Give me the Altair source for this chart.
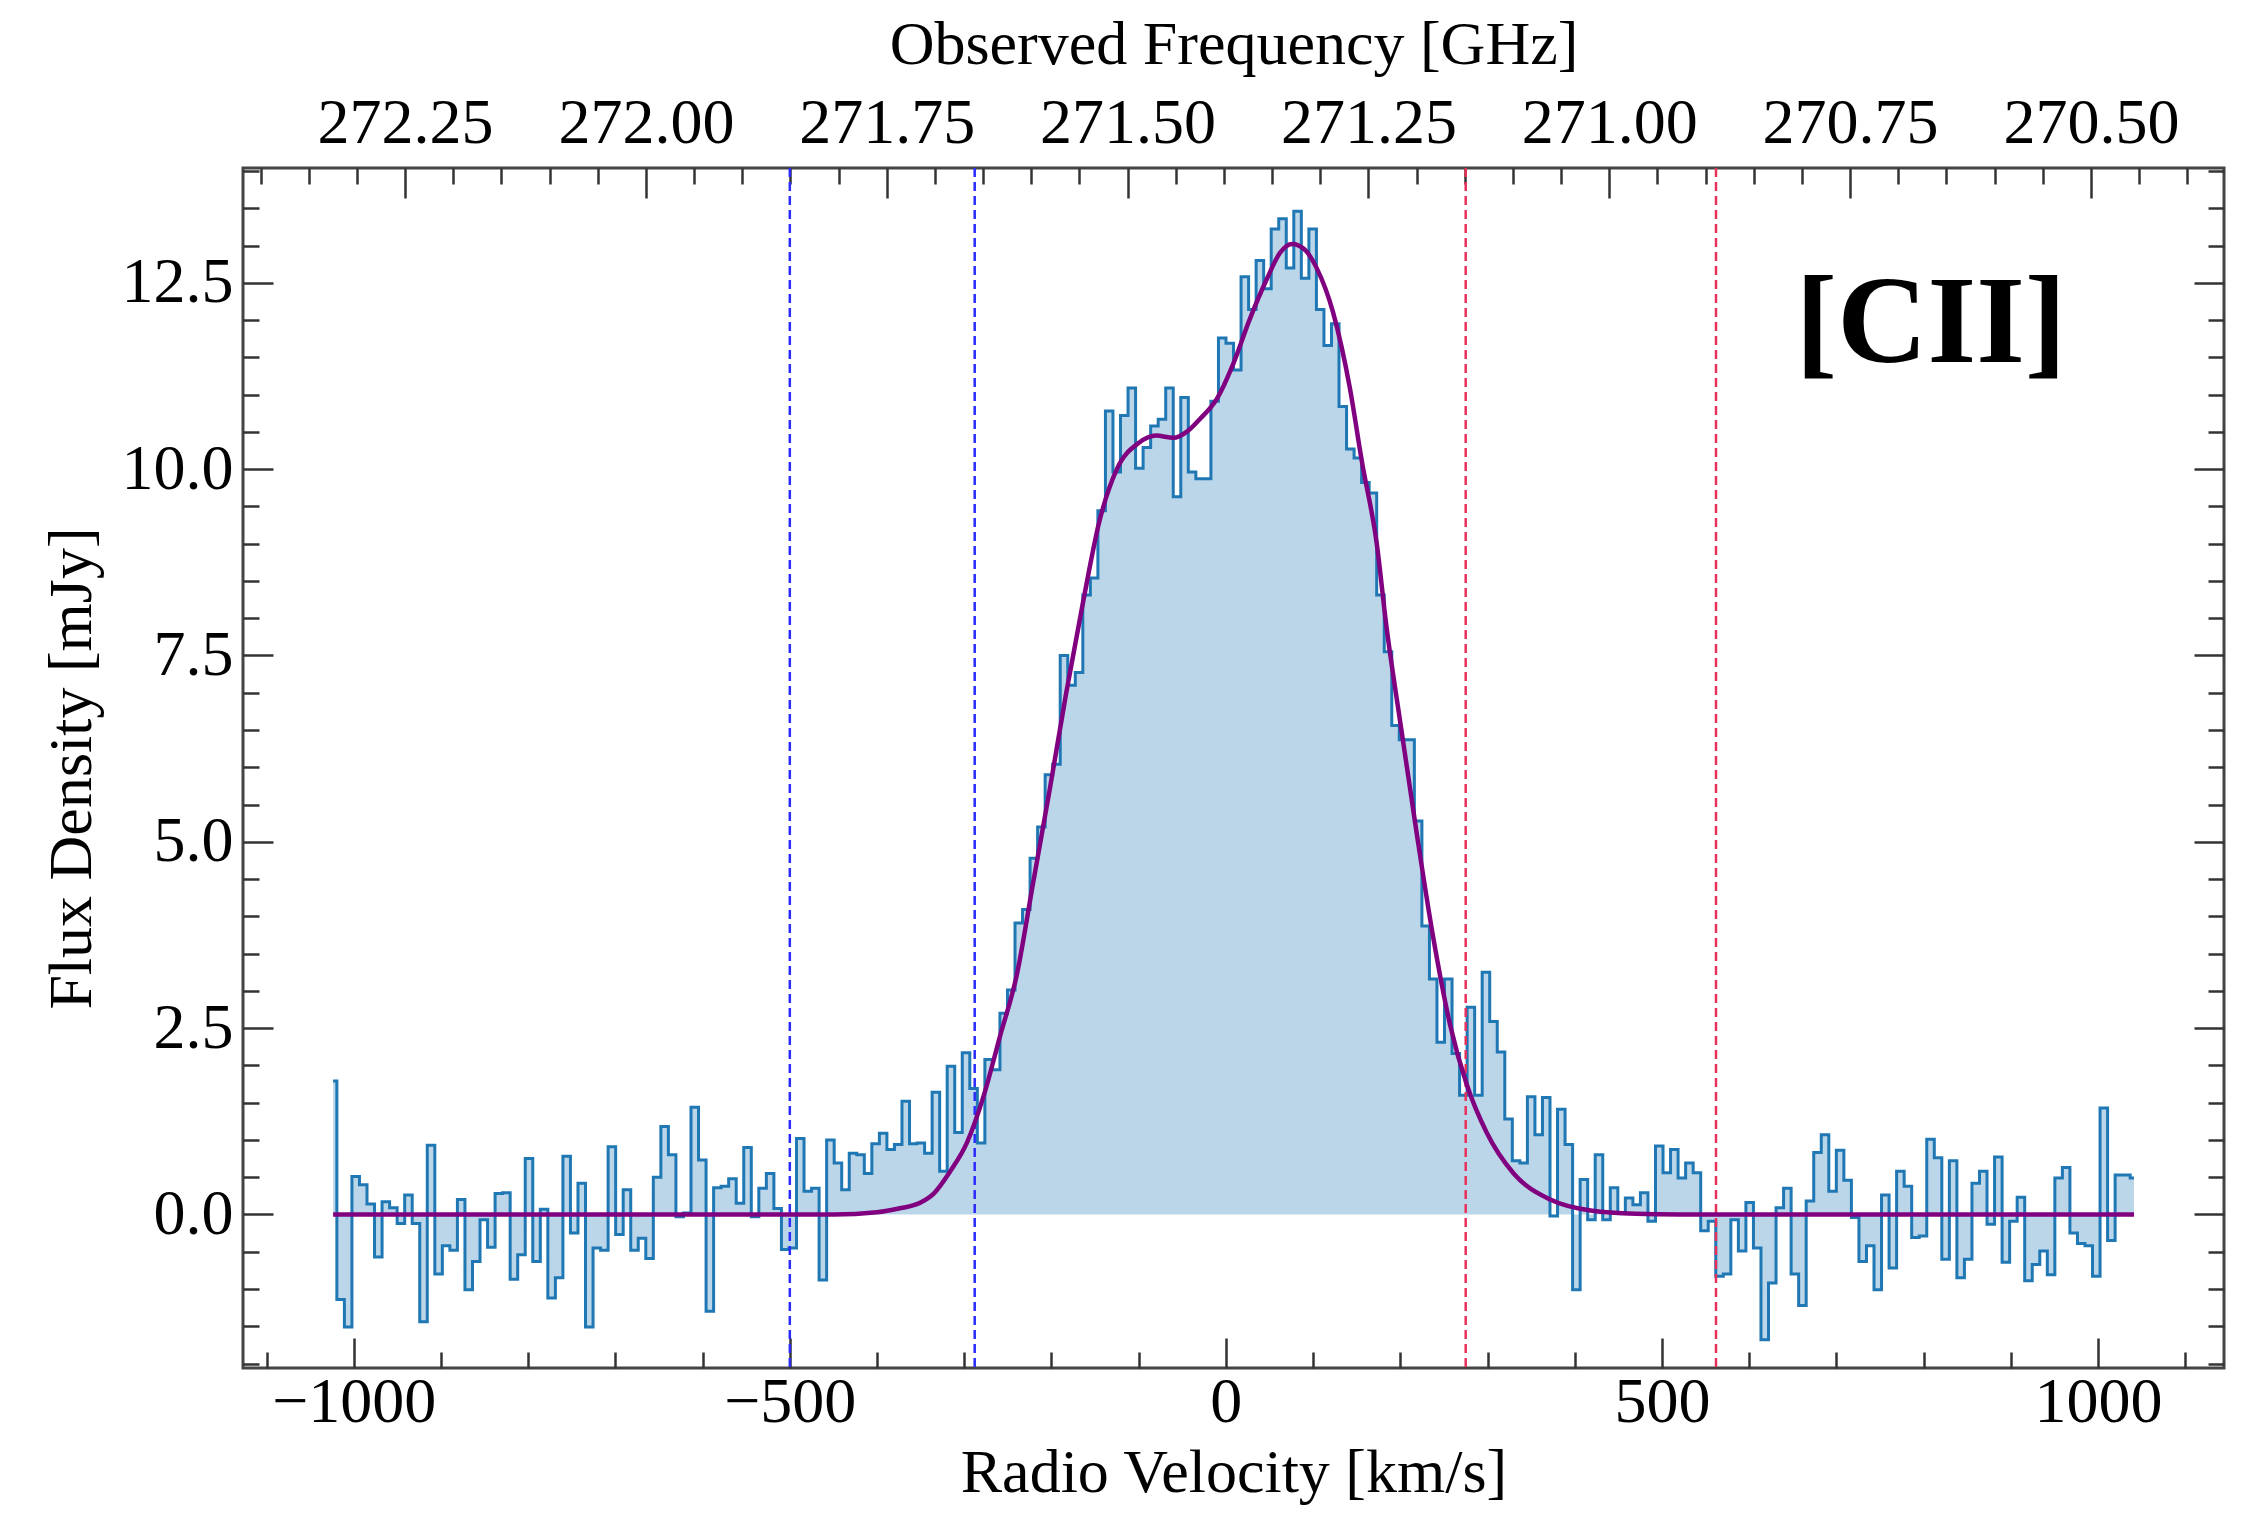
import altair as alt
import pandas as pd

# ---------------- data ----------------
v_first = -1023.7      # km/s, centre of the first channel
chan_width = 8.64      # km/s, channel width

flux_a = [1.79, -1.14, -1.51, 0.51, 0.40, 0.14, -0.57, 0.17, 0.09, -0.12,
          0.26, -0.12, -1.44, 0.93, -0.80, -0.42, -0.48, 0.20, -1.01, -0.63,
          -0.07, -0.44, 0.28, 0.29, -0.87, -0.54, 0.75, -0.63, 0.07, -1.12,
          -0.85, 0.78, -0.25, 0.42, -1.51, -0.45, -0.48, 0.91, -0.27, 0.33,
          -0.48]
flux_b = [-0.32, -0.59, 0.50, 1.18, 0.80, -0.03, 0.02, 1.44, 0.73, -1.30,
          0.36, 0.38, 0.48, 0.15, 0.90, -0.03, 0.35, 0.55, 0.08, -0.47,
          -0.45, 1.02, 0.31, 0.35, -0.88, 1.00, 0.69, 0.33, 0.82, 0.80,
          0.55, 0.95, 1.09, 0.87, 0.94, 1.52, 0.95, 0.96, 0.82, 1.64]
flux_c = [0.58, 1.99, 1.10, 2.17, 1.69, 0.96, 2.08, 1.94, 2.70, 3.01,
          3.91, 4.09, 4.78, 5.20, 5.90, 6.04, 7.50, 7.10, 7.27, 8.31,
          8.54, 9.44, 10.78, 9.96, 10.72, 11.09, 10.01, 10.29, 10.58, 10.67,
          11.09, 9.63, 10.96, 9.96, 9.87, 9.87, 10.91, 11.76, 11.69, 11.33]
flux_d = [12.58, 12.14, 12.80, 12.42, 13.22, 13.36, 12.70, 13.46, 12.56, 13.22,
          12.14, 11.66, 11.95, 10.84, 10.27, 10.15, 9.82, 9.68, 8.31, 7.55,
          6.56, 6.37, 6.37, 5.28, 3.87, 3.16, 2.31, 3.16, 2.16, 1.60,
          2.78, 1.60, 3.25, 2.59, 2.18, 1.28, 0.72, 0.69, 1.58, 1.07]
flux_e = [1.57, -0.02, 1.41, 0.94, -1.01, 0.47, -0.07, 0.80, -0.07, 0.36,
          0.02, 0.22, 0.13, 0.29, -0.09, 0.92, 0.56, 0.87, 0.49, 0.69,
          0.56, -0.22, -0.09, -0.83, -0.80, -0.07, -0.49, 0.16, -0.45, -1.68,
          -0.92, 0.09, 0.35, -0.80, -1.22, 0.18, 0.83, 1.07, 0.31, 0.86]
flux_f = [0.46, -0.04, -0.63, -0.42, -1.01, 0.26, -0.72, 0.58, 0.38, -0.31,
          -0.29, 1.01, 0.76, -0.60, 0.72, -0.85, -0.60, 0.42, 0.58, -0.13,
          0.77, -0.64, -0.09, 0.23, -0.89, -0.67, -0.49, -0.81, 0.49, 0.63,
          -0.25, -0.39, -0.42, -0.83, 1.43, -0.35, 0.53, 0.53, 0.49]

fit_v = [-1023.7, -450, -400, -375, -350, -335, -316, -297, -278, -259, -240,
         -221, -202, -183, -164, -145, -125, -100, -80, -60, -45, -30, -10,
         8, 27, 47, 62, 76, 90, 104, 123, 142, 156, 173, 184, 200, 219, 238,
         257, 276, 299, 330, 372, 420, 470, 520, 1041.3]
fit_flux = [0.0, 0.0, 0.03, 0.08, 0.16, 0.28, 0.58, 0.96, 1.58, 2.39, 3.20,
            4.45, 5.70, 7.00, 8.20, 9.30, 10.00, 10.35, 10.45, 10.42, 10.50,
            10.67, 10.95, 11.40, 12.00, 12.55, 12.90, 13.02, 12.95, 12.70,
            12.10, 11.10, 10.10, 9.00, 7.90, 6.60, 5.10, 3.70, 2.55, 1.75,
            1.10, 0.55, 0.20, 0.05, 0.01, 0.0, 0.0]

blue_lines = [-500, -288]
red_lines = [275, 562]

x_major = [-1000, -500, 0, 500, 1000]
x_minor = [-1100, -900, -800, -700, -600, -400, -300, -200, -100,
           100, 200, 300, 400, 600, 700, 800, 900, 1100]
y_major = [0.0, 2.5, 5.0, 7.5, 10.0, 12.5]
y_minor = [-2.0, -1.5, -1.0, -0.5, 0.5, 1.0, 1.5, 2.0, 3.0, 3.5, 4.0, 4.5,
           5.5, 6.0, 6.5, 7.0, 8.0, 8.5, 9.0, 9.5, 10.5, 11.0, 11.5, 12.0,
           13.0, 13.5, 14.0]
f_major = [272.25, 272.00, 271.75, 271.50, 271.25, 271.00, 270.75, 270.50]
f_minor = [272.40, 272.35, 272.30, 272.20, 272.15, 272.10, 272.05,
           271.95, 271.90, 271.85, 271.80, 271.70, 271.65, 271.60, 271.55,
           271.45, 271.40, 271.35, 271.30, 271.20, 271.15, 271.10, 271.05,
           270.95, 270.90, 270.85, 270.80, 270.70, 270.65, 270.60, 270.55,
           270.45, 270.40]

f_at_zero = 271.398     # GHz at 0 km/s
ghz_per_kms = 0.0009053

# ---------------- layout / style ----------------
FONT = "Liberation Serif"
W, H = 1981, 1200
x_dom = [-1127.0, 1144.5]
y_dom = [-2.06, 14.04]
f_dom = [f_at_zero - ghz_per_kms * x_dom[0], f_at_zero - ghz_per_kms * x_dom[1]]
TICK_COL = "#333333"
MAJ, MIN = 30, 16

flux = flux_a + flux_b + flux_c + flux_d + flux_e + flux_f
velocity = [round(v_first + chan_width * i, 3) for i in range(len(flux))]
spec = pd.DataFrame({"v": velocity, "flux": flux, "zero": [0.0] * len(flux)})
fit = pd.DataFrame({"v": fit_v, "flux": fit_flux})
rules = pd.DataFrame({"v": blue_lines + red_lines,
                      "side": ["blue"] * len(blue_lines) + ["red"] * len(red_lines)})


def xs():
    return alt.Scale(domain=x_dom, nice=False, zero=False)


def ys():
    return alt.Scale(domain=y_dom, nice=False, zero=False)


def fs():
    return alt.Scale(domain=f_dom, nice=False, zero=False)


area = alt.Chart(spec).mark_area(interpolate="step", color="#1f77b4", opacity=0.3).encode(
    x=alt.X("v:Q", scale=xs(), axis=None),
    y=alt.Y("flux:Q", scale=ys(), axis=None),
    y2="zero:Q",
)
step = alt.Chart(spec).mark_line(interpolate="step", color="#1f77b4", strokeWidth=3).encode(
    x=alt.X("v:Q", scale=xs(), axis=None),
    y=alt.Y("flux:Q", scale=ys(), axis=None),
)
vlines = alt.Chart(rules).mark_rule(strokeDash=[9, 5], strokeWidth=2.5).encode(
    x=alt.X("v:Q", scale=xs(), axis=None),
    color=alt.Color("side:N", scale=alt.Scale(domain=["blue", "red"],
                                              range=["#2b2bff", "#e8315a"]), legend=None),
)
fitline = alt.Chart(fit).mark_line(interpolate="monotone", color="#800080", strokeWidth=4.5).encode(
    x=alt.X("v:Q", scale=xs(), axis=None),
    y=alt.Y("flux:Q", scale=ys(), axis=None),
)
label = alt.Chart(pd.DataFrame({"t": ["[CII]"]})).mark_text(
    font=FONT, fontWeight="bold", fontSize=125, align="center", baseline="alphabetic", color="black"
).encode(text="t:N", x=alt.value(1688), y=alt.value(194))

dummy = pd.DataFrame({"v": [0.0], "f": [271.4], "y": [0.0]})


def tick_axis(values, size, orient):
    return alt.Axis(values=values, labels=False, domain=False, grid=False, ticks=True,
                    tickSize=size, offset=-size, tickColor=TICK_COL, tickWidth=2.5,
                    title=None, orient=orient)


lab = dict(labelFont=FONT, labelFontSize=64, labelColor="black", titleFont=FONT,
           titleFontSize=62, titleFontWeight="normal", titleColor="black",
           ticks=False, domain=False, grid=False, labelFlush=False, labelOverlap=False)

ax1 = alt.Chart(dummy).mark_point(opacity=0).encode(
    x=alt.X("v:Q", scale=xs(), axis=alt.Axis(values=x_major, format="d", orient="bottom",
                                             labelPadding=2, title="Radio Velocity [km/s]",
                                             titlePadding=8, **lab)),
    y=alt.Y("y:Q", scale=ys(), axis=alt.Axis(values=y_major, format=".1f", orient="left",
                                             labelPadding=10, title="Flux Density [mJy]",
                                             titlePadding=18, **lab)),
)
ax2 = alt.Chart(dummy).mark_point(opacity=0).encode(
    x=alt.X("v:Q", scale=xs(), axis=tick_axis(x_major, MAJ, "bottom")),
    y=alt.Y("y:Q", scale=ys(), axis=tick_axis(y_major, MAJ, "left")),
)
ax3 = alt.Chart(dummy).mark_point(opacity=0).encode(
    x=alt.X("v:Q", scale=xs(), axis=tick_axis(x_minor, MIN, "bottom")),
    y=alt.Y("y:Q", scale=ys(), axis=tick_axis(y_minor, MIN, "left")),
)
ax4 = alt.Chart(dummy).mark_point(opacity=0).encode(
    x=alt.X("f:Q", scale=fs(), axis=alt.Axis(values=f_major, format=".2f", orient="top",
                                             labelPadding=13, title="Observed Frequency [GHz]",
                                             titlePadding=15, **lab)),
    y=alt.Y("y:Q", scale=ys(), axis=tick_axis(y_major, MAJ, "right")),
)
ax5 = alt.Chart(dummy).mark_point(opacity=0).encode(
    x=alt.X("f:Q", scale=fs(), axis=tick_axis(f_major, MAJ, "top")),
    y=alt.Y("y:Q", scale=ys(), axis=tick_axis(y_minor, MIN, "right")),
)
ax6 = alt.Chart(dummy).mark_point(opacity=0).encode(
    x=alt.X("f:Q", scale=fs(), axis=tick_axis(f_minor, MIN, "top")),
    y=alt.Y("y:Q", scale=ys(), axis=None),
)

chart = alt.layer(area, step, vlines, fitline, label, ax1, ax2, ax3, ax4, ax5, ax6).resolve_scale(
    x="independent", y="independent"
).properties(
    width=W, height=H,
    autosize=alt.AutoSizeParams(type="none"),
    padding={"left": 243, "top": 168, "right": 30, "bottom": 145},
    background="white",
).configure_view(stroke="#444444", strokeWidth=3)

chart.save("out.html", embed_options={"renderer": "svg", "actions": False})
